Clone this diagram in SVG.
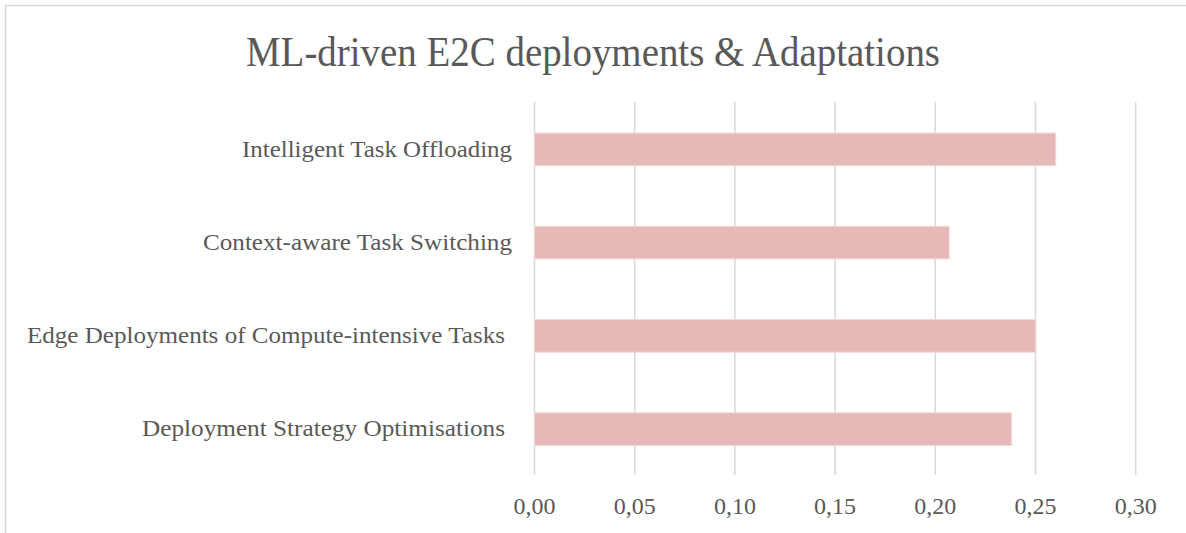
<svg xmlns="http://www.w3.org/2000/svg" width="1186" height="533" viewBox="0 0 1186 533">
  <style>
    .frame { fill: #ffffff; stroke: #d9d9d9; stroke-width: 1.5; }
    .grid { stroke: #d9d9d9; stroke-width: 1.5; }
    .bar { fill: #e6b8b7; stroke: #f2dcdb; stroke-width: 1; }
    .title { font-family: "Liberation Serif", "DejaVu Serif", serif; font-size: 42px; fill: #595959; }
    .cat { font-family: "Liberation Serif", "DejaVu Serif", serif; font-size: 24px; fill: #595959; text-anchor: end; }
    .tick { font-family: "Liberation Serif", "DejaVu Serif", serif; font-size: 24px; fill: #595959; text-anchor: middle; }
  </style>

  <!-- chart area frame -->
  <rect class="frame" x="5.5" y="5.5" width="1190" height="540"/>

  <text id="chart-title" class="title" x="246" y="66" textLength="694" lengthAdjust="spacingAndGlyphs">ML-driven E2C deployments &amp; Adaptations</text>

  <!-- value axis gridlines -->
  <g id="gridlines">
    <line class="grid" x1="534.5" y1="102" x2="534.5" y2="475"/>
    <line class="grid" x1="634.7" y1="102" x2="634.7" y2="475"/>
    <line class="grid" x1="734.9" y1="102" x2="734.9" y2="475"/>
    <line class="grid" x1="835.1" y1="102" x2="835.1" y2="475"/>
    <line class="grid" x1="935.3" y1="102" x2="935.3" y2="475"/>
    <line class="grid" x1="1035.5" y1="102" x2="1035.5" y2="475"/>
    <line class="grid" x1="1135.7" y1="102" x2="1135.7" y2="475"/>
  </g>

  <!-- value axis labels -->
  <g id="axis-labels">
    <text class="tick" x="534.5" y="514" textLength="42" lengthAdjust="spacingAndGlyphs">0,00</text>
    <text class="tick" x="634.7" y="514" textLength="42" lengthAdjust="spacingAndGlyphs">0,05</text>
    <text class="tick" x="734.9" y="514" textLength="42" lengthAdjust="spacingAndGlyphs">0,10</text>
    <text class="tick" x="835.1" y="514" textLength="42" lengthAdjust="spacingAndGlyphs">0,15</text>
    <text class="tick" x="935.3" y="514" textLength="42" lengthAdjust="spacingAndGlyphs">0,20</text>
    <text class="tick" x="1035.5" y="514" textLength="42" lengthAdjust="spacingAndGlyphs">0,25</text>
    <text class="tick" x="1135.7" y="514" textLength="42" lengthAdjust="spacingAndGlyphs">0,30</text>
  </g>

  <!-- categories: bar + label -->
  <g id="intelligent-task-offloading">
    <rect class="bar" x="534.5" y="133" width="521.2" height="32.7"/>
    <text class="cat" x="512" y="156.5" textLength="270" lengthAdjust="spacingAndGlyphs">Intelligent Task Offloading</text>
  </g>
  <g id="context-aware-task-switching">
    <rect class="bar" x="534.5" y="226.2" width="414.8" height="32.7"/>
    <text class="cat" x="512" y="249.7" textLength="309" lengthAdjust="spacingAndGlyphs">Context-aware Task Switching</text>
  </g>
  <g id="edge-deployments">
    <rect class="bar" x="534.5" y="319.5" width="501.2" height="32.7"/>
    <text class="cat" x="505" y="343" textLength="478" lengthAdjust="spacingAndGlyphs">Edge Deployments of Compute-intensive Tasks</text>
  </g>
  <g id="deployment-strategy-optimisations">
    <rect class="bar" x="534.5" y="412.8" width="477.2" height="32.7"/>
    <text class="cat" x="505" y="436.3" textLength="363" lengthAdjust="spacingAndGlyphs">Deployment Strategy Optimisations</text>
  </g>

  <!-- no connectors in this chart -->
  <g id="connectors"/>
</svg>
